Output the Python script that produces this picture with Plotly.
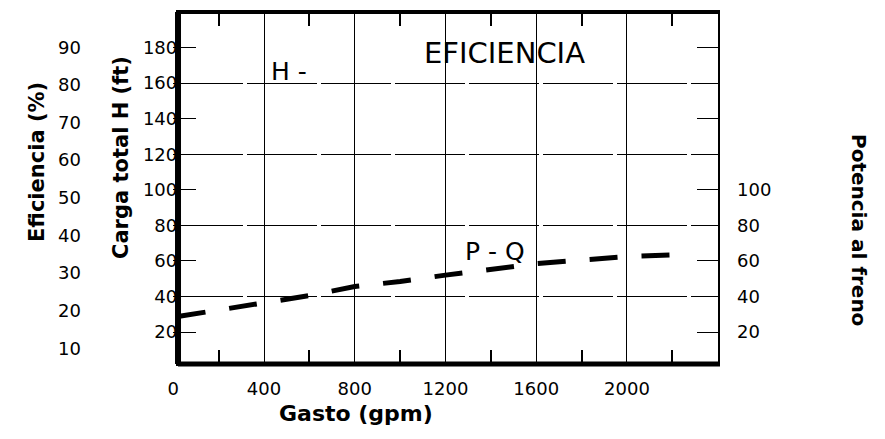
import plotly.graph_objects as go

# ---- data ----
gasto_gpm = [20, 100, 400, 600, 800, 1000, 1200, 1400, 1600, 1800, 2000, 2200]
potencia_pq = [28.7, 30.4, 36.3, 40.5, 45.6, 48.4, 52.0, 55.1, 58.5, 60.5, 62.4, 63.3]

x_ticks = [0, 400, 800, 1200, 1600, 2000]
x_minor_ticks = [200, 600, 1000, 1400, 1800, 2200]
x_grid = [400, 800, 1200, 1600, 2000]

carga_ticks = [20, 40, 60, 80, 100, 120, 140, 160, 180]
carga_grid = [40, 80, 120, 160]
carga_minor = [20, 60, 100, 140, 180]
eficiencia_ticks = [10, 20, 30, 40, 50, 60, 70, 80, 90]
potencia_ticks = [20, 40, 60, 80, 100]

# page body has an 8px margin: the figure starts at (8, 8) in the window
OFF = 8
FW, FH = 885 - OFF, 439 - OFF


def pxx(x):
    return (x - OFF) / FW


def pxy(y):
    return 1 - (y - OFF) / FH


# plot frame in window pixels
xdom = [pxx(173.25), pxx(720)]
ydom = [pxy(364), pxy(12)]
x_range = [0, 2410]
h_range = [2, 200]
ef_range = [5.8, 99.4]

FONT = "DejaVu Sans"
CLEAR = "rgba(0,0,0,0)"

fig = go.Figure()

# P-Q curve
fig.add_trace(go.Scatter(
    x=gasto_gpm, y=potencia_pq, mode="lines", xaxis="x", yaxis="y3",
    line=dict(color="black", width=5, dash="28px,24px"),
    showlegend=False, hoverinfo="skip"))
# empty traces to register the helper axes
fig.add_trace(go.Scatter(x=[], y=[], xaxis="x2", yaxis="y4", showlegend=False, hoverinfo="skip"))
fig.add_trace(go.Scatter(x=[], y=[], xaxis="x", yaxis="y2", showlegend=False, hoverinfo="skip"))
fig.add_trace(go.Scatter(x=[], y=[], xaxis="x", yaxis="y", showlegend=False, hoverinfo="skip"))

tickfont = dict(family=FONT, size=18, color="black")

fig.update_layout(
    width=FW, height=FH,
    margin=dict(l=0, r=0, t=0, b=0, autoexpand=False),
    paper_bgcolor="white", plot_bgcolor="white",
    showlegend=False,
    xaxis=dict(domain=xdom, range=x_range, anchor="y",
               tickmode="array", tickvals=x_ticks, ticktext=[str(v) for v in x_ticks],
               ticks="", showgrid=False, showline=True, linecolor=CLEAR, zeroline=False,
               tickfont=tickfont, ticklabelstandoff=8, mirror="allticks",
               minor=dict(tickmode="array", tickvals=x_minor_ticks, ticks="inside",
                          ticklen=14, tickwidth=1.5, tickcolor="black", showgrid=False)),
    xaxis2=dict(domain=xdom, range=x_range, overlaying="x", anchor="y", side="top",
                tickmode="array", tickvals=x_grid, showticklabels=False, ticks="",
                showgrid=True, gridcolor="black", gridwidth=1.3,
                showline=False, zeroline=False),
    yaxis=dict(domain=ydom, range=h_range, anchor="x",
               tickmode="array", tickvals=carga_ticks, ticks="",
               showgrid=False, showline=False, zeroline=False,
               tickfont=tickfont, ticklabelstandoff=-5),
    yaxis2=dict(domain=ydom, range=ef_range, overlaying="y", anchor="free",
                position=pxx(81), side="left",
                tickmode="array", tickvals=eficiencia_ticks, ticks="",
                showgrid=False, showline=False, zeroline=False, tickfont=tickfont),
    yaxis3=dict(domain=ydom, range=h_range, overlaying="y", anchor="x", side="right",
                tickmode="array", tickvals=potencia_ticks, ticks="",
                showgrid=False, showline=False, zeroline=False,
                tickfont=tickfont, ticklabelstandoff=16),
    yaxis4=dict(domain=ydom, range=h_range, overlaying="y", anchor="x2", side="left",
                tickmode="array", tickvals=carga_grid, showticklabels=False, ticks="",
                showgrid=True, gridcolor="black", gridwidth=1.2, griddash="70px,4px",
                showline=True, linecolor=CLEAR, zeroline=False, mirror="ticks",
                minor=dict(tickmode="array", tickvals=carga_minor, ticks="inside",
                           ticklen=23, tickwidth=1.2, tickcolor="black", showgrid=False)),
)

# frame
fr_y0, fr_y1 = ydom
fig.add_shape(type="rect", xref="x", yref="paper", x0=21, x1=x_range[1], y0=fr_y0, y1=fr_y1,
              line=dict(color="black", width=4), layer="above")
fig.add_shape(type="line", xref="x", yref="paper", x0=21, x1=21, y0=fr_y0, y1=fr_y1,
              line=dict(color="black", width=6), layer="above")
fig.add_shape(type="line", xref="x", yref="paper", x0=21, x1=x_range[1], y0=fr_y0, y1=fr_y0,
              line=dict(color="black", width=5), layer="above")

# in-plot labels
lab = dict(family=FONT, color="black")
fig.add_annotation(x=1462, y=177, xref="x", yref="y", text="EFICIENCIA", showarrow=False,
                   font=dict(size=29, **lab))
fig.add_annotation(x=510, y=166.5, xref="x", yref="y", text="H -", showarrow=False,
                   font=dict(size=25, **lab))
fig.add_annotation(x=1418, y=65.2, xref="x", yref="y", text="P - Q", showarrow=False,
                   font=dict(size=25, **lab))

# axis titles
fig.add_annotation(x=pxx(23), y=pxy(162), xref="paper", yref="paper", text="<b>Eficiencia (%)</b>",
                   textangle=-90, showarrow=False, font=dict(size=21, **lab))
fig.add_annotation(x=pxx(107), y=pxy(158), xref="paper", yref="paper", text="<b>Carga total H (ft)</b>",
                   textangle=-90, showarrow=False, font=dict(size=21, **lab))
fig.add_annotation(x=pxx(356), y=pxy(428), xref="paper", yref="paper", text="<b>Gasto (gpm)</b>",
                   showarrow=False, font=dict(size=22, **lab))
fig.add_annotation(x=pxx(873), y=pxy(132), xref="paper", yref="paper", text="<b>Potencia al freno</b>",
                   textangle=90, showarrow=False, font=dict(size=20, **lab))

fig.write_html("out.html", config={"displayModeBar": False})
